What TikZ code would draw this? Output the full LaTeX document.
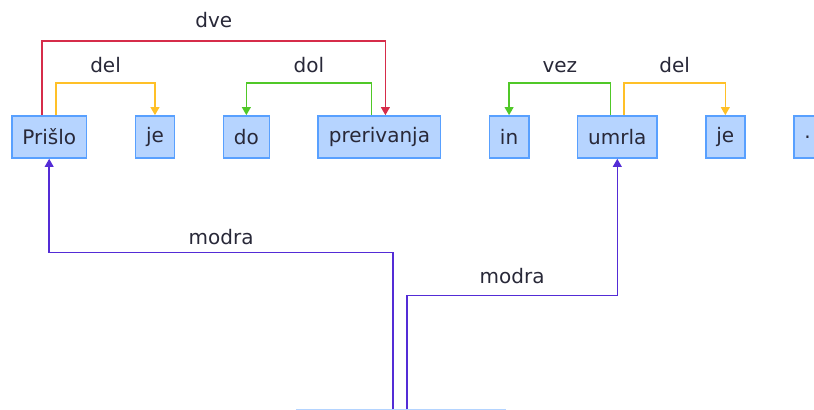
\documentclass[tikz,border=0pt]{standalone}
\usepackage{fontspec}
\setmainfont{DejaVu Sans}
\usetikzlibrary{arrows.meta, positioning}
\definecolor{boxfill}  {RGB}{182, 212, 255}
\definecolor{boxline}  {RGB}{ 88, 160, 255}
\definecolor{dveclr}   {RGB}{214,  44,  74}
\definecolor{delclr}   {RGB}{255, 192,  40}
\definecolor{dolclr}   {RGB}{ 80, 200,  40}
\definecolor{modraclr} {RGB}{ 84,  44, 214}
\definecolor{darktext} {RGB}{ 40,  40,  56}
\tikzset{
  tok/.style={draw=boxline, fill=boxfill, line width=1.2pt, inner xsep=7.9pt,
    minimum height=31.5pt, text=darktext},
  arc/.style={line width=1.2pt, -{Triangle[width=6.5pt, length=6pt]}},
  lbl/.style={text=darktext}
}

\begin{document}
\begin{tikzpicture}[x=0.75pt, y=-0.75pt, font=\fontsize{15}{18}\selectfont]
  \useasboundingbox (0,0) rectangle (814,410);
  \clip (0,0) rectangle (814,410);
  % tokens
  \node[tok, anchor=west] (prislo) at (11,137) {Prišlo};
  \node[tok, right=35.5pt of prislo] (jeA) {je};
  \node[tok, right=35.5pt of jeA] (do) {do};
  \node[tok, right=35.5pt of do] (preriv) {prerivanja};
  \node[tok, right=35.5pt of preriv] (in) {in};
  \node[tok, right=35.5pt of in] (umrla) {umrla};
  \node[tok, right=35.5pt of umrla] (jeB) {je};
  \node[tok, right=35.5pt of jeB] (pika) {.};
  % root, cut off at the bottom
  \node[tok, draw=boxline!45, minimum width=156pt, anchor=north] (root) at (401,409.3) {};
  % arcs above
  \draw[arc, dveclr] ([xshift=-5.25pt]prislo.north) -- ++(0,-74)
    -| ([xshift=4.5pt]preriv.north) node[lbl, pos=0.25, above=6pt] {dve};
  \draw[arc, delclr] ([xshift=5.25pt]prislo.north) -- ++(0,-32)
    -| (jeA.north) node[lbl, pos=0.25, above=4pt] {del};
  \draw[arc, dolclr] ([xshift=-6pt]preriv.north) -- ++(0,-32)
    -| (do.north) node[lbl, pos=0.25, above=4pt] {dol};
  \draw[arc, dolclr] ([xshift=-5pt]umrla.north) -- ++(0,-32)
    -| (in.north) node[lbl, pos=0.25, above=4pt] {vez};
  \draw[arc, delclr] ([xshift=5pt]umrla.north) -- ++(0,-32)
    -| (jeB.north) node[lbl, pos=0.25, above=4pt] {del};
  % arcs from the root
  \draw[arc, modraclr] ([xshift=-6pt]root.north) -- ++(0,-157)
    -| (prislo.south) node[lbl, pos=0.25, above=2pt] {modra};
  \draw[arc, modraclr] ([xshift=4.5pt]root.north) -- ++(0,-114)
    -| (umrla.south) node[lbl, pos=0.25, above=5pt] {modra};
\end{tikzpicture}
\end{document}
